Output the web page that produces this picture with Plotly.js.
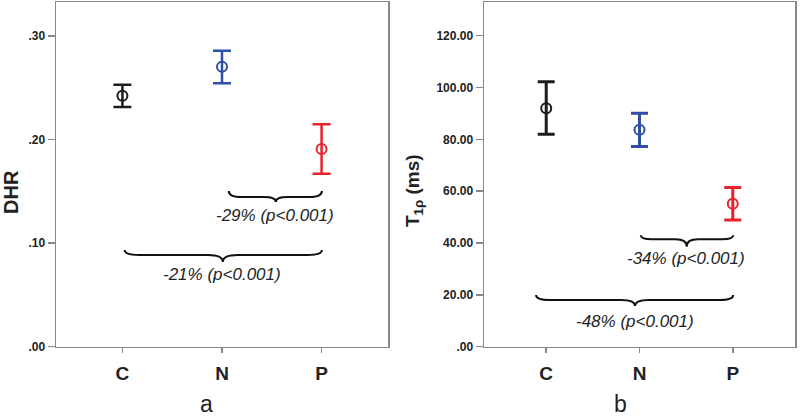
<!DOCTYPE html>
<html>
<head>
<meta charset="utf-8">
<script src="https://cdn.plot.ly/plotly-3.0.1.min.js"></script>
<style>
html,body{margin:0;padding:0;background:#fff;}
#chart{width:800px;height:418px;}
</style>
</head>
<body>
<div id="chart"></div>
<script>
// ---- data ----
var groups = ['C', 'N', 'P'];
var groupPos = [0, 1, 2];
var groupColors = ['#1c1c1c', '#2f4fa6', '#e8232d'];

var dhrMean  = [0.2425, 0.2705, 0.191];
var dhrUpper = [0.253, 0.286, 0.215];
var dhrLower = [0.2316, 0.2545, 0.167];

var t1rMean  = [92.0, 83.7, 55.2];
var t1rUpper = [102.2, 90.1, 61.4];
var t1rLower = [82.0, 77.2, 48.9];

var dhrTickVals = [0, 0.1, 0.2, 0.3];
var dhrTickText = ['.00', '.10', '.20', '.30'];
var t1rTickVals = [0, 20, 40, 60, 80, 100, 120];
var t1rTickText = ['.00', '20.00', '40.00', '60.00', '80.00', '100.00', '120.00'];

var compareA = ['-29% (p<0.001)', '-21% (p<0.001)'];
var compareB = ['-34% (p<0.001)', '-48% (p<0.001)'];

// ---- build ----
var FONT = 'Arial, "Liberation Sans", sans-serif';
var traces = [];
function addSeries(mean, up, lo, xa, ya, lw, cap) {
  for (var i = 0; i < groups.length; i++) {
    traces.push({
      type: 'scatter', mode: 'markers',
      x: [groupPos[i]], y: [mean[i]],
      xaxis: xa, yaxis: ya,
      marker: {symbol: 'circle-open', size: 10, color: groupColors[i], line: {width: 2, color: groupColors[i]}},
      error_y: {type: 'data', symmetric: false, array: [up[i] - mean[i]], arrayminus: [mean[i] - lo[i]],
                color: groupColors[i], thickness: lw, width: cap},
      showlegend: false, hoverinfo: 'skip'
    });
  }
}
addSeries(dhrMean, dhrUpper, dhrLower, 'x', 'y', 2.5, 9);
addSeries(t1rMean, t1rUpper, t1rLower, 'x2', 'y2', 3, 8.5);

function bracePath(x1, x2, xm, yEnd, yFlat, yTip, d) {
  return 'M' + x1 + ',' + yEnd +
    ' Q' + x1 + ',' + yFlat + ' ' + (x1 + d) + ',' + yFlat +
    ' L' + (xm - d) + ',' + yFlat +
    ' Q' + xm + ',' + yFlat + ' ' + xm + ',' + yTip +
    ' Q' + xm + ',' + yFlat + ' ' + (xm + d) + ',' + yFlat +
    ' L' + (x2 - d) + ',' + yFlat +
    ' Q' + x2 + ',' + yFlat + ' ' + x2 + ',' + yEnd;
}
var braceLine = {color: '#111', width: 2};
var shapes = [
  {type: 'path', xref: 'x', yref: 'y', path: bracePath(1.068, 2.003, 1.54, 0.1504, 0.1446, 0.1398, 0.12), line: braceLine},
  {type: 'path', xref: 'x', yref: 'y', path: bracePath(0.023, 2.003, 1.008, 0.0934, 0.0886, 0.0818, 0.15), line: braceLine},
  {type: 'path', xref: 'x2', yref: 'y2', path: bracePath(1.013, 2.005, 1.506, 43.0, 41.47, 38.6, 0.12), line: braceLine},
  {type: 'path', xref: 'x2', yref: 'y2', path: bracePath(-0.109, 2.005, 0.952, 19.96, 18.03, 15.7, 0.15), line: braceLine}
];

var noteFont = {family: FONT, size: 17, color: '#222'};
var annotations = [
  {xref: 'x', yref: 'y', x: 1.53, y: 0.1272, text: '<i>' + compareA[0].replace('<', '&lt;') + '</i>', showarrow: false, font: noteFont},
  {xref: 'x', yref: 'y', x: 0.998, y: 0.0693, text: '<i>' + compareA[1].replace('<', '&lt;') + '</i>', showarrow: false, font: noteFont},
  {xref: 'x2', yref: 'y2', x: 1.498, y: 34.1, text: '<i>' + compareB[0].replace('<', '&lt;') + '</i>', showarrow: false, font: noteFont},
  {xref: 'x2', yref: 'y2', x: 0.952, y: 9.65, text: '<i>' + compareB[1].replace('<', '&lt;') + '</i>', showarrow: false, font: noteFont},
  {xref: 'paper', yref: 'paper', x: 11 / 800, y: (418 - 192) / 418, text: '<b>DHR</b>', textangle: -90, showarrow: false,
   xanchor: 'center', yanchor: 'middle', font: {family: FONT, size: 20, color: '#222'}},
  {xref: 'paper', yref: 'paper', x: 414 / 800, y: (418 - 190) / 418, text: '<b>T<sub>1ρ</sub> (ms)</b>', textangle: -90, showarrow: false,
   xanchor: 'center', yanchor: 'middle', font: {family: FONT, size: 19, color: '#222'}},
  {xref: 'paper', yref: 'paper', x: 207 / 800, y: (418 - 404) / 418, text: 'a', showarrow: false,
   xanchor: 'center', yanchor: 'middle', font: {family: FONT, size: 23, color: '#222'}},
  {xref: 'paper', yref: 'paper', x: 620 / 800, y: (418 - 404) / 418, text: 'b', showarrow: false,
   xanchor: 'center', yanchor: 'middle', font: {family: FONT, size: 23, color: '#222'}}
];

var yDom = [(418 - 346.7) / 418, (418 - 2) / 418];
function xAxis(dom) {
  return {domain: dom, range: [-0.667, 2.667], tickvals: groupPos, ticktext: groups,
    showline: true, mirror: true, linecolor: '#888', linewidth: 1.5,
    ticks: 'outside', ticklen: 5, tickcolor: '#888', tickwidth: 1.5, ticklabelstandoff: 4,
    showgrid: false, zeroline: false, fixedrange: true,
    tickfont: {family: FONT, size: 19, color: '#222', weight: 'bold'}};
}
function yAxis(range, vals, text, anchor) {
  return {domain: yDom, range: range, tickvals: vals, ticktext: text, anchor: anchor,
    showline: true, mirror: true, linecolor: '#888', linewidth: 1.5,
    ticks: 'outside', ticklen: 7, tickcolor: '#888', tickwidth: 1.5,
    showgrid: false, zeroline: false, fixedrange: true,
    tickfont: {family: FONT, size: 12, color: '#222', weight: 'bold'}};
}

var layout = {
  width: 800, height: 418,
  margin: {l: 0, r: 0, t: 0, b: 0},
  paper_bgcolor: '#fff', plot_bgcolor: '#fff',
  showlegend: false,
  xaxis: Object.assign(xAxis([56 / 800, 388 / 800]), {anchor: 'y'}),
  yaxis: yAxis([0, 0.333], dhrTickVals, dhrTickText, 'x'),
  xaxis2: Object.assign(xAxis([484 / 800, 795 / 800]), {anchor: 'y2'}),
  yaxis2: yAxis([0, 133], t1rTickVals, t1rTickText, 'x2'),
  shapes: shapes,
  annotations: annotations
};

Plotly.newPlot('chart', traces, layout, {staticPlot: true, displayModeBar: false});
</script>
</body>
</html>
